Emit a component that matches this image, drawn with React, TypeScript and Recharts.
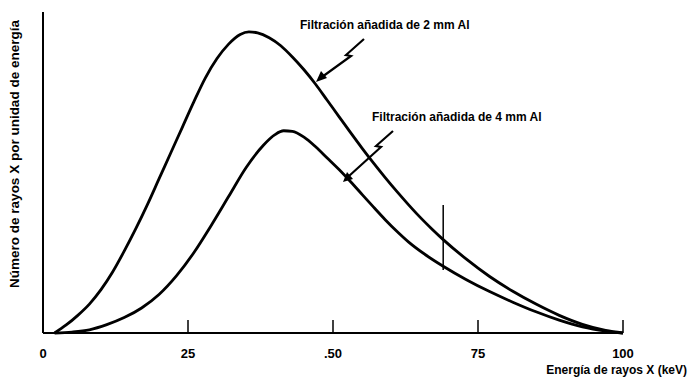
import React from "react";
import { LineChart, Line, XAxis, YAxis, ReferenceLine } from "recharts";

// espectro con filtración de 2 mm Al
const E_2MM = [2, 4, 6, 8, 10, 12, 14, 16, 18, 20, 22, 24, 26, 28, 30, 32, 34, 35.5, 37, 39, 41, 43, 45, 47, 49, 51, 53, 55, 57, 59, 61, 63, 65, 67, 69, 73, 77, 81, 85, 89, 93, 97, 100];
const N_2MM = [0, 2.5, 5.5, 9, 13.5, 19, 25.5, 32.5, 40, 48, 56, 64, 72, 79.5, 85.5, 90, 93, 93.8, 93.5, 92, 89.5, 86, 82, 77.5, 72.5, 67.5, 62.5, 57.6, 52.9, 48.4, 44.1, 40, 36.1, 32.5, 29.1, 23, 17.6, 13, 9, 5.5, 2.7, 0.8, 0];

// espectro con filtración de 4 mm Al
const E_4MM = [2, 5, 8, 11, 14, 17, 20, 23, 26, 29, 32, 35, 38, 40, 41.5, 43, 45, 47, 49, 51, 53, 55, 57, 59, 61, 63, 66, 69, 73, 77, 81, 85, 89, 93, 97, 100];
const N_4MM = [0, 0.3, 1, 2.6, 4.8, 7.8, 12, 17.8, 25, 33.5, 42.5, 51.5, 58.5, 61.8, 63, 62.8, 61, 58, 54.5, 51, 47.2, 43.2, 39.2, 35.3, 31.7, 28.4, 24.3, 20.8, 16.6, 12.9, 9.6, 6.6, 4, 1.9, 0.6, 0];

const X_TICKS = [0, 25, 50, 75, 100];
const X_TICK_LABELS = ["0", "25", ".50", "75", "100"];

// borde K (línea vertical)
const K_EDGE_E = 69;
const K_EDGE_N = [39.9, 19.6];

const data2 = E_2MM.map((e, i) => ({ e, n: N_2MM[i] }));
const data4 = E_4MM.map((e, i) => ({ e, n: N_4MM[i] }));

const FONT = '"Liberation Sans", Arial, sans-serif';

const Tick = (props: any) => {
    const { x, y, payload } = props;
    const idx = X_TICKS.indexOf(payload.value);
    return (
        <g>
            <line x1={x} x2={x} y1={y} y2={y - 13} stroke="#000" strokeWidth={1.5} />
            <text x={x} y={y + 25} textAnchor="middle" fontFamily={FONT} fontWeight="bold" fontSize={13} fill="#000">
                {X_TICK_LABELS[idx]}
            </text>
        </g>
    );
};

export default function App() {
    return (
        <div style={{ position: "absolute", left: 0, top: 0, width: 689, height: 379, background: "#fff" }}>
            <LineChart width={689} height={379} margin={{ top: 12, right: 66, bottom: 16, left: 13 }}>
                <XAxis
                    type="number"
                    dataKey="e"
                    domain={[0, 100]}
                    ticks={X_TICKS}
                    tick={<Tick />}
                    tickLine={false}
                    tickSize={0}
                    tickMargin={0}
                    height={30}
                    axisLine={{ stroke: "#000", strokeWidth: 2 }}
                    allowDuplicatedCategory={false}
                />
                <YAxis
                    type="number"
                    domain={[0, 100]}
                    tick={false}
                    tickLine={false}
                    width={30}
                    axisLine={{ stroke: "#000", strokeWidth: 2 }}
                />
                <ReferenceLine
                    segment={[{ x: K_EDGE_E, y: K_EDGE_N[0] }, { x: K_EDGE_E, y: K_EDGE_N[1] }]}
                    stroke="#000"
                    strokeWidth={1.5}
                />
                <Line data={data2} dataKey="n" type="monotone" stroke="#000" strokeWidth={2.8} dot={false} isAnimationActive={false} />
                <Line data={data4} dataKey="n" type="monotone" stroke="#000" strokeWidth={2.8} dot={false} isAnimationActive={false} />
            </LineChart>
            <svg width={689} height={379} style={{ position: "absolute", left: 0, top: 0, pointerEvents: "none" }}>
                <g fontFamily={FONT} fontWeight="bold" fill="#000">
                    <text x={300} y={29} fontSize={12}>Filtración añadida de 2 mm Al</text>
                    <text x={372} y={121} fontSize={12}>Filtración añadida de 4 mm Al</text>
                    <text x={687} y={374} fontSize={12} textAnchor="end">Energía de rayos X (keV)</text>
                    <text x={19} y={154} fontSize={13.5} textAnchor="middle" transform="rotate(-90 19 154)">
                        Número de rayos X por unidad de energía
                    </text>
                </g>
                <g stroke="#000" strokeWidth={2.2} fill="none" strokeLinejoin="miter">
                    <path d="M364,39 L346,55 L351,56 L322,77" />
                    <path d="M393,131 L376,146 L381,147 L349,176" />
                </g>
                <g fill="#000">
                    <polygon points="316,82 327,78 321,71" />
                    <polygon points="343,182 353,179 347,172" />
                </g>
            </svg>
        </div>
    );
}
